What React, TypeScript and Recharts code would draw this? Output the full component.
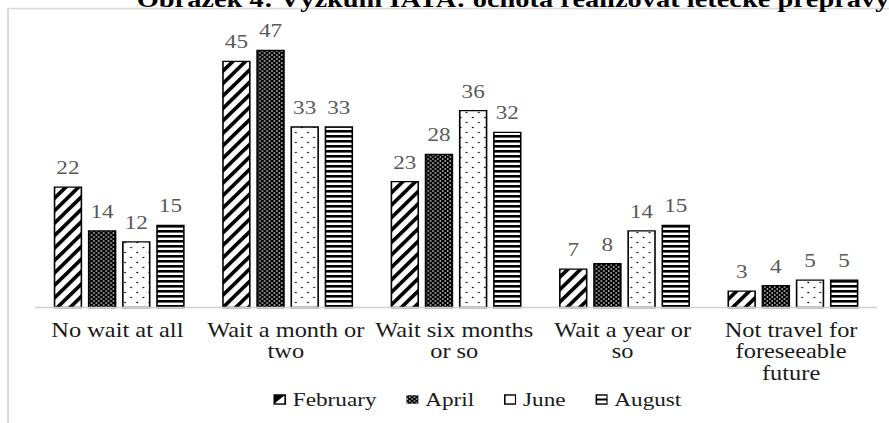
import React from "react";
import { BarChart, Bar, XAxis, YAxis, LabelList } from "recharts";

const categories = [
  "No wait at all",
  "Wait a month or two",
  "Wait six months or so",
  "Wait a year or so",
  "Not travel for foreseeable future",
];
const categoryLines = [
  ["No wait at all"],
  ["Wait a month or", "two"],
  ["Wait six months", "or so"],
  ["Wait a year or", "so"],
  ["Not travel for", "foreseeable", "future"],
];
const february = [22, 45, 23, 7, 3];
const april = [14, 47, 28, 8, 4];
const june = [12, 33, 36, 14, 5];
const august = [15, 33, 32, 15, 5];
const seriesNames = ["February", "April", "June", "August"];
const title = "Obrázek 4: Výzkum IATA: ochota realizovat letecké přepravy";

const data = categories.map((name, i) => ({
  name,
  February: february[i],
  April: april[i],
  June: june[i],
  August: august[i],
}));

const patternIds = ["pFeb", "pApr", "pJun", "pAug"];

const SX = 1.22;
const W = 729;
const H = 423;
const FONT = "Liberation Serif";

const CategoryTick = (props: any) => {
  const { x, y, index } = props;
  const lines = categoryLines[index] ?? [String(props.payload?.value ?? "")];
  return (
    <g>
      {lines.map((ln: string, i: number) => (
        <text
          key={i}
          x={Number(x) - 1.5}
          y={Number(y) + 29.5 + i * 21.5}
          textAnchor="middle"
          style={{ fontFamily: FONT, fontSize: 20 }}
          fill="#1a1a1a"
        >
          {ln}
        </text>
      ))}
    </g>
  );
};

const ValueLabel = (props: any) => {
  const { x, y, width, value } = props;
  return (
    <text
      x={Number(x) + Number(width) / 2}
      y={Number(y) - 13}
      textAnchor="middle"
      style={{ fontFamily: FONT, fontSize: 19 }}
      fill="#595959"
    >
      {value}
    </text>
  );
};

const LegendIcon = ({ i }: { i: number }) => {
  return (
    <svg width={10.5} height={11} viewBox="0 0 11 11" style={{ display: "block" }}>
      {i === 0 && (
        <g>
          <rect x={0.75} y={0.75} width={9.5} height={9.5} fill="#fff" stroke="#000" strokeWidth={1.5} />
          <polygon points="0.75,0.75 10.25,0.75 0.75,10.25" fill="#000" />
          <line x1={3} y1={9} x2={9} y2={3} stroke="#fff" strokeWidth={1.4} />
        </g>
      )}
      {i === 1 && (
        <g>
          <rect x={0} y={1} width={11} height={9} fill="url(#pApr)" />
        </g>
      )}
      {i === 2 && <rect x={0.75} y={0.75} width={9.5} height={9.5} fill="#fff" stroke="#000" strokeWidth={1.5} />}
      {i === 3 && (
        <g>
          <rect x={0.75} y={0.75} width={9.5} height={9.5} fill="#fff" stroke="#000" strokeWidth={1.5} />
          <line x1={0.75} y1={5.5} x2={10.25} y2={5.5} stroke="#000" strokeWidth={2} />
        </g>
      )}
    </svg>
  );
};

export default function App() {
  return (
    <div style={{ position: "absolute", left: 0, top: 0, width: 889, height: H, overflow: "hidden", background: "#fff", fontFamily: FONT }}>
      <div
        style={{
          position: "absolute",
          left: 0,
          top: 0,
          width: W,
          height: H,
          transform: `scaleX(${SX})`,
          transformOrigin: "0 0",
        }}
      >
        <svg width={W} height={H} style={{ position: "absolute", left: 0, top: 0, overflow: "visible" }}>
          <defs>
            <pattern id="pFeb" patternUnits="userSpaceOnUse" width={8} height={8} patternTransform="rotate(40)">
              <rect width={8} height={8} fill="#fff" />
              <rect width={3.3} height={8} fill="#000" />
            </pattern>
            <pattern id="pApr" patternUnits="userSpaceOnUse" width={4} height={4}>
              <rect width={4} height={4} fill="#000" />
              <circle cx={1} cy={1} r={0.75} fill="#fff" />
              <circle cx={3} cy={3} r={0.75} fill="#fff" />
            </pattern>
            <pattern id="pJun" patternUnits="userSpaceOnUse" width={10} height={10}>
              <rect width={10} height={10} fill="#fff" />
              <circle cx={2.5} cy={2.5} r={0.8} fill="#000" />
              <circle cx={7.5} cy={7.5} r={0.8} fill="#000" />
            </pattern>
            <pattern id="pAug" patternUnits="userSpaceOnUse" width={5} height={5}>
              <rect width={5} height={5} fill="#fff" />
              <rect width={5} height={2.6} fill="#000" />
            </pattern>
          </defs>
          <rect x={6.6} y={8.5} width={800} height={600} fill="none" stroke="#d9d9d9" strokeWidth={1.5} />
          <text x={112} y={7} style={{ fontFamily: FONT, fontSize: 23.3, fontWeight: "bold" }} fill="#000">
            {title}
          </text>
        </svg>
        <div style={{ position: "absolute", left: 0, top: 0 }}>
          <BarChart
            width={W}
            height={H}
            data={data}
            margin={{ top: 34, right: 10, left: 28.7, bottom: 85.5 }}
            barGap={6}
          >
            <XAxis
              dataKey="name"
              tickLine={false}
              tickSize={0}
              tickMargin={0}
              axisLine={{ stroke: "#d0d0d0", strokeWidth: 1.5 }}
              interval={0}
              height={30}
              tick={(p: any) => <CategoryTick {...p} />}
            />
            <YAxis hide domain={[0, 50]} />
            {seriesNames.map((s, i) => (
              <Bar
                key={s}
                dataKey={s}
                fill={`url(#${patternIds[i]})`}
                stroke="#000"
                strokeWidth={1.3}
                barSize={22}
                isAnimationActive={false}
              >
                <LabelList dataKey={s} content={ValueLabel} />
              </Bar>
            ))}
          </BarChart>
        </div>
        <div
          style={{
            position: "absolute",
            left: 224,
            top: 390,
            display: "flex",
            alignItems: "center",
            fontFamily: FONT,
            fontSize: 19,
            lineHeight: "19px",
            color: "#1a1a1a",
            whiteSpace: "nowrap",
          }}
        >
          {seriesNames.map((s, i) => (
            <div key={s} style={{ display: "flex", alignItems: "center", marginRight: 24 }}>
              <LegendIcon i={i} />
              <span style={{ marginLeft: 5.5 }}>{s}</span>
            </div>
          ))}
        </div>
      </div>
    </div>
  );
}
